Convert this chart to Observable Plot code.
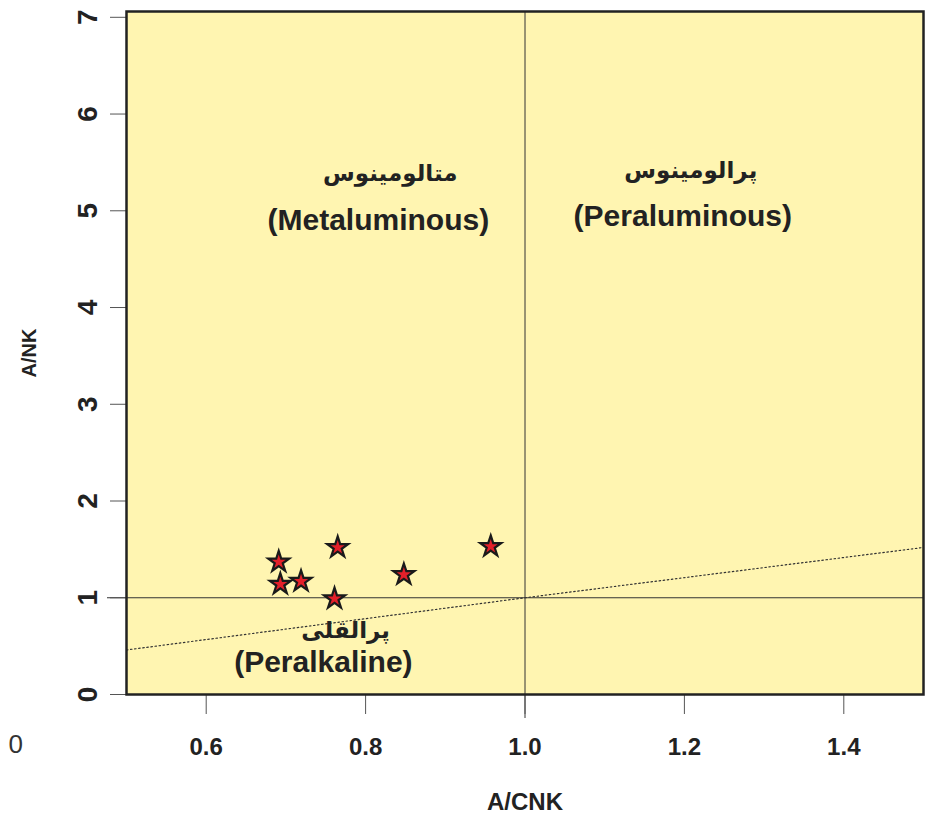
<!DOCTYPE html>
<html>
<head>
<meta charset="utf-8">
<script src="https://cdn.jsdelivr.net/npm/d3@7"></script>
<script src="https://cdn.jsdelivr.net/npm/@observablehq/plot@0.6"></script>
<style>
  html, body { margin: 0; padding: 0; background: #fff; }
</style>
</head>
<body>
<div id="chart"></div>
<script>
// Tick values
const xTicks = [0.6, 0.8, 1.0, 1.2, 1.4];
const yTicks = [0, 1, 2, 3, 4, 5, 6, 7];

// Samples (A/CNK vs A/NK)
const sampleACNK = [0.691, 0.693, 0.719, 0.765, 0.761, 0.848, 0.957];
const sampleANK  = [1.37, 1.14, 1.17, 1.52, 0.99, 1.24, 1.53];

// Dotted boundary line
const boundaryACNK = [0.5, 1.0, 1.5];
const boundaryANK  = [0.46, 1.0, 1.52];

// Field labels
const fieldFa = ["متالومینوس", "پرالومینوس", "پرالقلی"];
const fieldEn = ["(Metaluminous)", "(Peraluminous)", "(Peralkaline)"];
const fieldFaX = [0.831, 1.208, 0.775];
const fieldFaY = [5.38, 5.41, 0.66];
const fieldEnX = [0.816, 1.198, 0.747];
const fieldEnY = [4.90, 4.94, 0.33];

const samples = sampleACNK.map((x, i) => ({x, y: sampleANK[i]}));
const boundary = boundaryACNK.map((x, i) => ({x, y: boundaryANK[i]}));
const fields = fieldFa.map((fa, i) => ({fa, en: fieldEn[i], fx: fieldFaX[i], fy: fieldFaY[i], ex: fieldEnX[i], ey: fieldEnY[i]}));

const sans = "'Liberation Sans', Arial, Helvetica, sans-serif";

const chart = Plot.plot({
  width: 926,
  height: 822,
  marginLeft: 126,
  marginRight: 3,
  marginTop: 11,
  marginBottom: 128,
  x: {domain: [0.5, 1.5], label: null},
  y: {domain: [0, 7.06], label: null},
  style: {background: "#fff", fontFamily: sans, overflow: "visible"},
  marks: [
    Plot.frame({fill: "#fff5b1"}),
    Plot.ruleY([1], {stroke: "#333", strokeWidth: 1, insetLeft: -19}),
    Plot.ruleX([1], {stroke: "#333", strokeWidth: 1, insetBottom: -24}),
    Plot.line(boundary, {x: "x", y: "y", stroke: "#333", strokeWidth: 1.2, strokeDasharray: "1.5,2.6"}),
    Plot.axisX({ticks: xTicks, tickSize: 20, tickFormat: () => "", stroke: "#555", strokeWidth: 1}),
    Plot.axisY({ticks: yTicks, tickSize: 16, tickFormat: () => "", stroke: "#555", strokeWidth: 1}),
    Plot.text(xTicks, {x: d => d, y: 0, text: d => d.toFixed(1), dy: 53, fontSize: 24, fontWeight: "bold", fill: "#222", fontFamily: sans}),
    Plot.text(yTicks, {x: 0.5, y: d => d, text: d => String(d), dx: -38, rotate: -90, fontSize: 28, fontWeight: "bold", fill: "#222", fontFamily: sans}),
    Plot.text(["A/CNK"], {frameAnchor: "bottom", dy: 115, fontSize: 24, fontWeight: "bold", fill: "#222", fontFamily: sans}),
    Plot.text(["A/NK"], {x: 0.5, y: 3.53, dx: -97, rotate: -90, fontSize: 20, fontWeight: "bold", fill: "#222", fontFamily: sans}),
    Plot.text(["0"], {frameAnchor: "bottom-left", dx: -118, dy: 58, fontSize: 26, fill: "#333", fontFamily: sans}),
    Plot.text(fields, {x: "fx", y: "fy", text: "fa", fontSize: 23, fontWeight: "bold", fill: "#222", fontFamily: "'DejaVu Sans', sans-serif"}),
    Plot.text(fields, {x: "ex", y: "ey", text: "en", fontSize: 30, fontWeight: "bold", fill: "#222", fontFamily: sans}),
    Plot.frame({stroke: "#222", strokeWidth: 2.5}),
    Plot.dot(samples, {x: "x", y: "y", symbol: "star", r: 6.6, fill: "#e3202a", stroke: "#1a1a1a", strokeWidth: 2.2})
  ]
});
document.getElementById("chart").appendChild(chart);
</script>
</body>
</html>
